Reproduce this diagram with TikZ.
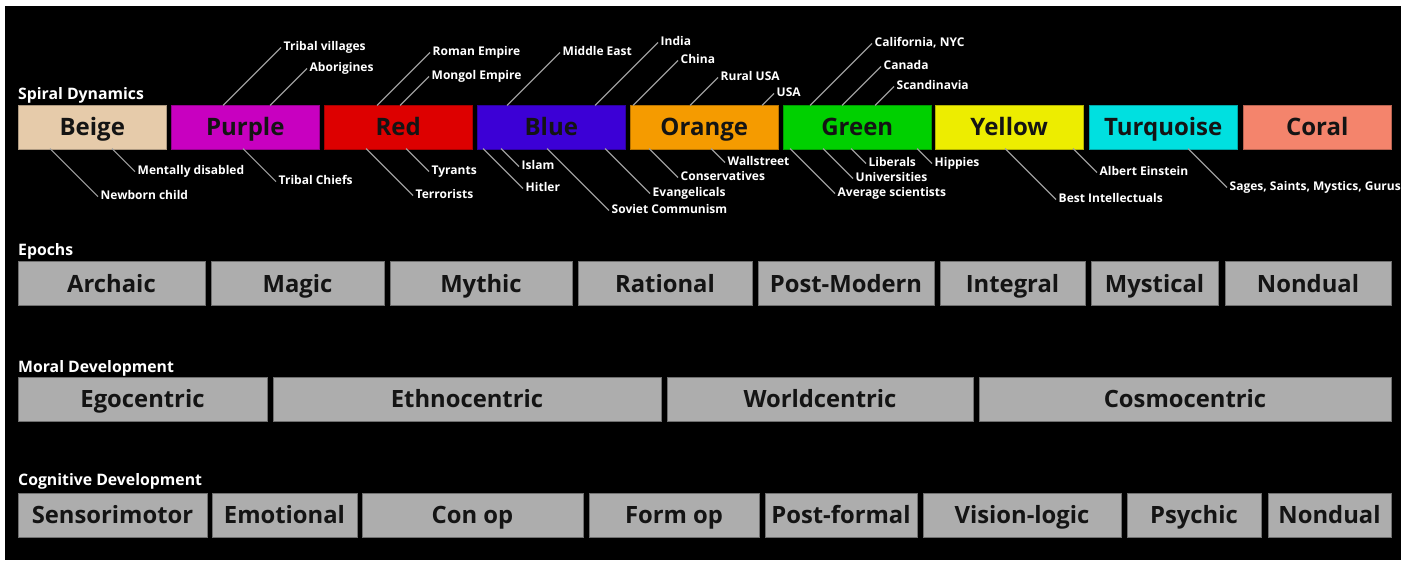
\documentclass[tikz,border=0pt]{standalone}
\usepackage{fontspec}
\setmainfont{Open Sans}
\definecolor{sdbeige}{HTML}{E6CBAA}
\definecolor{sdpurple}{HTML}{C800C0}
\definecolor{sdred}{HTML}{DD0000}
\definecolor{sdblue}{HTML}{3C00D6}
\definecolor{sdorange}{HTML}{F59B00}
\definecolor{sdgreen}{HTML}{00D000}
\definecolor{sdyellow}{HTML}{EDED00}
\definecolor{sdturq}{HTML}{00E0E0}
\definecolor{sdcoral}{HTML}{F4846C}
\definecolor{boxgray}{HTML}{ADADAD}
\definecolor{boxedge}{HTML}{707070}
\definecolor{leadgray}{HTML}{9C9C9C}
\definecolor{inkdark}{HTML}{141414}
\tikzset{
  sdbox/.style={fill=#1, draw=#1!75!black, line width=0.8pt, minimum height=44pt,
    inner sep=0pt, text height=17pt, text depth=0pt, text=inkdark,
    font=\bfseries\fontsize{24}{24}\selectfont},
  gbox/.style={fill=boxgray, draw=boxedge, line width=0.8pt, minimum height=44pt,
    inner sep=0pt, text height=17pt, text depth=0pt, text=inkdark,
    font=\bfseries\fontsize{23.8}{24}\selectfont},
  lab/.style={text=white, inner sep=2.5pt, text height=8.3pt, text depth=2pt,
    font=\bfseries\fontsize{12}{12}\selectfont},
  leader/.style={draw=leadgray, line width=1.2pt},
  rowtitle/.style={text=white, inner sep=0pt, anchor=base west,
    font=\bfseries\fontsize{15.8}{16}\selectfont}
}
\begin{document}
\begin{tikzpicture}[x=1pt,y=-1pt]
\useasboundingbox (0,0) rectangle (1411,562);
\fill[white] (0,0) rectangle (1411,562);
\fill[black] (5,6) rectangle (1401,560);
% titles
\node[rowtitle] (tSD) at (18,99) {Spiral Dynamics};
\node[rowtitle] (tEP) at (18,255) {Epochs};
\node[rowtitle] (tMD) at (18,372) {Moral Development};
\node[rowtitle] (tCD) at (18,485) {Cognitive Development};
% spiral dynamics boxes
\foreach \n/\c/\l/\t in {beige/sdbeige/18/Beige, purple/sdpurple/171/Purple, red/sdred/324/Red,
  blue/sdblue/477/Blue, orange/sdorange/630/Orange, green/sdgreen/783/Green,
  yellow/sdyellow/935/Yellow, turq/sdturq/1089/Turquoise, coral/sdcoral/1243/Coral}
  \node[sdbox=\c, minimum width=148.5pt] (\n) at (\l+74.25,127) {\t};
% epochs
\foreach \i/\l/\r/\t in {1/18/205/Archaic, 2/211/384/Magic, 3/390/572/Mythic, 4/578/752/Rational,
  5/758/934/Post-Modern, 6/940/1085/Integral, 7/1091/1218/Mystical, 8/1225/1391/Nondual}
  \node[gbox, minimum width=\r-\l] (ep\i) at ({(\l+\r)/2},283.5) {\t};
% moral
\foreach \i/\l/\r/\t in {1/18/267/Egocentric, 2/273/661/Ethnocentric, 3/667/973/Worldcentric,
  4/979/1391/Cosmocentric}
  \node[gbox, minimum width=\r-\l] (md\i) at ({(\l+\r)/2},399) {\t};
% cognitive
\foreach \i/\l/\r/\t in {1/18/207/Sensorimotor, 2/212/357/Emotional, 3/362/583/Con op,
  4/589/759/Form op, 5/765/917/Post-formal, 6/923/1121/Vision-logic, 7/1127/1261/Psychic,
  8/1268/1391/Nondual}
  \node[gbox, minimum width=\r-\l] (cd\i) at ({(\l+\r)/2},515) {\t};
% top leaders
\foreach \k/\x/\d/\t in {u1/223/58/Tribal villages, u2/270/37/Aborigines, u3/377/53/Roman Empire,
  u4/400/29/Mongol Empire, u5/507/53/Middle East, u6/595/63/India, u7/633/45/China,
  u8/690/28/Rural USA, u9/762/12/USA, u10/810/62/{California, NYC}, u11/842/39/Canada,
  u12/875/19/Scandinavia}
{
  \coordinate (\k) at (\x,105.4);
  \node[lab, anchor=west] (L\k) at (\x+\d,105.4-\d) {\t};
  \draw[leader] (\k) -- (L\k.west);
}
% bottom leaders
\foreach \k/\x/\d/\t in {b1/50/48/Newborn child, b2/112/23/Mentally disabled, b3/243/33/Tribal Chiefs,
  b4/366/47/Terrorists, b5/406/23/Tyrants, b6/483/40/Hitler, b7/501/18/Islam,
  b8/547/62/Soviet Communism, b9/605/45/Evangelicals, b10/649/29/Conservatives,
  b11/711/14/Wallstreet, b12/790/45/Average scientists, b13/823/30/Universities,
  b14/851/15/Liberals, b15/917/15/Hippies, b16/1005/51/Best Intellectuals,
  b17/1073/24/Albert Einstein, b18/1188/39/{Sages, Saints, Mystics, Gurus}}
{
  \coordinate (\k) at (\x,148.6);
  \node[lab, anchor=west] (L\k) at (\x+\d,148.6+\d) {\t};
  \draw[leader] (\k) -- (L\k.west);
}
\end{tikzpicture}
\end{document}
